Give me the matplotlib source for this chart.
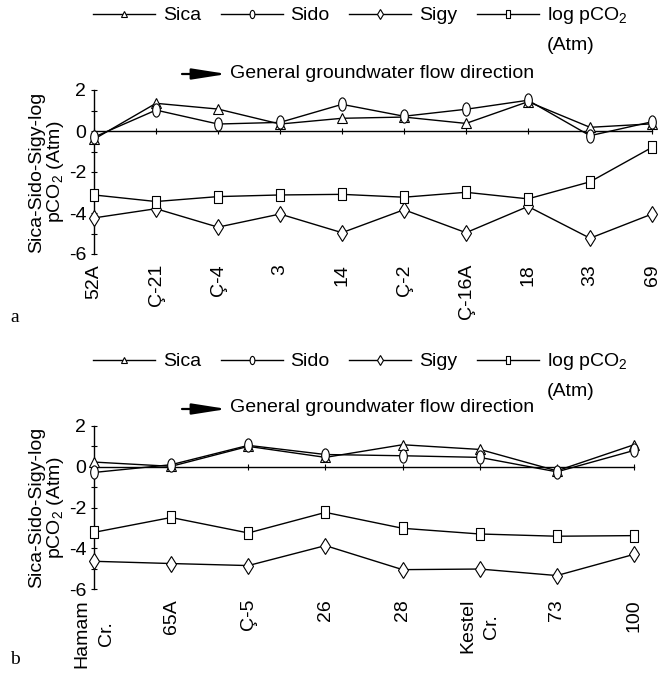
import matplotlib
matplotlib.use("Agg")
import matplotlib.pyplot as plt
from matplotlib.path import Path
from matplotlib.transforms import Affine2D, blended_transform_factory, offset_copy
import numpy as np

plt.rcParams['font.family'] = ['Liberation Sans', 'DejaVu Sans']
plt.rcParams['mathtext.fontset'] = 'custom'
plt.rcParams['mathtext.rm'] = 'Liberation Sans'
plt.rcParams['axes.unicode_minus'] = False

# ---------------- data ----------------
cats_a = ['52A', 'Ç-21', 'Ç-4', '3', '14', 'Ç-2', 'Ç-16A', '18', '33', '69']
sica_a = [-0.4, 1.35, 1.07, 0.34, 0.62, 0.68, 0.37, 1.43, 0.18, 0.35]
sido_a = [-0.3, 1.02, 0.34, 0.42, 1.3, 0.72, 1.06, 1.5, -0.23, 0.45]
sigy_a = [-4.24, -3.79, -4.69, -4.05, -4.96, -3.84, -4.96, -3.68, -5.23, -4.05]
pco2_a = [-3.12, -3.44, -3.2, -3.12, -3.09, -3.23, -2.99, -3.31, -2.48, -0.8]

cats_b = ['Hamam\nCr.', '65A', 'Ç-5', '26', '28', 'Kestel\nCr.', '73', '100']
sica_b = [0.23, 0.02, 1.0, 0.46, 1.08, 0.85, -0.2, 1.08]
sido_b = [-0.28, 0.1, 1.05, 0.6, 0.54, 0.46, -0.25, 0.8]
sigy_b = [-4.64, -4.75, -4.85, -3.87, -5.05, -5.02, -5.34, -4.3]
pco2_b = [-3.22, -2.49, -3.25, -2.24, -3.02, -3.3, -3.41, -3.38]

series_labels = ['Sica', 'Sido', 'Sigy', 'log pCO$_2$']
yticks = [-6, -4, -2, 0, 2]

# ---------------- markers ----------------
ellipse = Path.unit_circle().transformed(Affine2D().scale(0.58, 1.0))
rect = Path([(-0.62, -1), (0.62, -1), (0.62, 1), (-0.62, 1), (-0.62, -1)],
            [Path.MOVETO, Path.LINETO, Path.LINETO, Path.LINETO, Path.CLOSEPOLY])
styles = [dict(marker='^', ms=7.5), dict(marker=ellipse, ms=9.5),
          dict(marker='d', ms=8.5), dict(marker=rect, ms=9)]

W, H = 667, 673
fig = plt.figure(figsize=(W / 100, H / 100), dpi=100)

def px(x, y):
    return x / W, 1 - y / H

panels = []

def make_panel(rect_px, cats, data, legend_y, atm_y, arrow_y, letter, letter_y):
    x0, y0, x1, y1 = rect_px
    l, b = px(x0, y1)
    ax = fig.add_axes([l, b, (x1 - x0) / W, (y1 - y0) / H])
    n = len(cats)
    x = np.arange(n)
    handles = []
    for vals, st, lab in zip(data, styles, series_labels):
        h, = ax.plot(x, vals, color='black', lw=1.0, marker=st['marker'],
                     ms=st['ms'], mfc='white', mec='black', mew=0.8,
                     clip_on=False, label=lab, zorder=3)
        handles.append(h)
    ax.set_xlim(0, n - 1)
    ax.set_ylim(-6, 2)
    for s in ['top', 'right']:
        ax.spines[s].set_visible(False)
    ax.spines['bottom'].set_position(('data', 0))
    ax.spines['bottom'].set_linewidth(1.0)
    ax.spines['left'].set_linewidth(1.0)
    ax.set_xticks(x)
    ax.set_xticklabels([])
    ax.tick_params(axis='x', direction='inout', length=4, width=0.8)
    ax.set_yticks(yticks)
    ax.set_yticks([-5, -3, -1, 1], minor=True)
    ax.tick_params(axis='y', which='major', direction='inout', length=5,
                   width=0.8, labelsize=14, pad=3)
    ax.tick_params(axis='y', which='minor', direction='inout', length=4, width=0.8)
    ax.set_ylabel('Sica-Sido-Sigy-log\npCO$_2$ (Atm)', fontsize=14, labelpad=2,
                  linespacing=1.0)
    # category labels below the plot (data x, axes y)
    tr = offset_copy(blended_transform_factory(ax.transData, ax.transAxes),
                     fig=fig, x=0, y=-10, units='dots')
    for xi, c in zip(x, cats):
        ax.text(xi, 0, c, transform=tr, rotation=90, fontsize=14,
                ha='center', va='top', multialignment='center',
                linespacing=1.55, clip_on=False)
    # legend
    leg = fig.legend(handles=handles, labels=series_labels, loc='center left',
                     bbox_to_anchor=px(93, legend_y), ncol=4, frameon=False,
                     fontsize=14, handlelength=3.2, handletextpad=0.4,
                     columnspacing=1.0, borderaxespad=0, borderpad=0,
                     markerscale=0.62)
    atm = fig.text(*px(553, atm_y), '(Atm)', fontsize=14, va='center', ha='left')
    fig.text(*px(230, arrow_y), 'General groundwater flow direction',
             fontsize=14, va='center', ha='left')
    fig.patches.append(matplotlib.patches.FancyArrowPatch(
        px(182, arrow_y + 1), px(227, arrow_y + 1), transform=fig.transFigure,
        arrowstyle='-|>,head_length=2.1,head_width=0.33', mutation_scale=10,
        lw=1.6, color='black', shrinkA=0, shrinkB=0))
    fig.text(*px(10, letter_y), letter, fontsize=14, family='Liberation Serif',
             va='center', ha='left')
    panels.append((leg, atm))
    return ax

make_panel((94, 90, 652, 254), cats_a, [sica_a, sido_a, sigy_a, pco2_a],
           legend_y=16, atm_y=46, arrow_y=73, letter='a', letter_y=318)
make_panel((94, 426, 634, 589), cats_b, [sica_b, sido_b, sigy_b, pco2_b],
           legend_y=362, atm_y=392, arrow_y=408, letter='b', letter_y=660)

# align "(Atm)" with the legend's last label
fig.canvas.draw()
r = fig.canvas.get_renderer()
for leg, atm in panels:
    bb = leg.get_texts()[-1].get_window_extent(r)
    atm.set_x(bb.x0 / W)

fig.savefig('out.png', dpi=100)
